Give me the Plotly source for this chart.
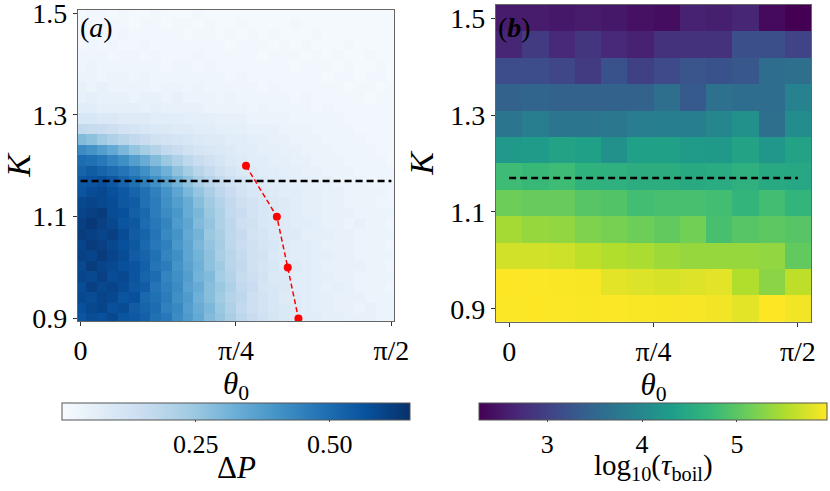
import numpy as np
import plotly.graph_objects as go

# --- dados ---
# painel (a): grade 30x30 de Delta P (x100), linhas de K=0.9 (baixo) ate K=1.5 (topo)
theta_a = np.linspace(0, np.pi / 2, 30)
k_a = np.linspace(0.9, 1.5, 30)
dp_x100 = [
    [56, 58, 57, 59, 56, 55, 53, 49, 47, 42, 38, 34, 29, 26, 22, 18, 15, 13, 11, 9, 8, 7, 7, 6, 6, 5, 5, 5, 4, 4],
    [57, 59, 60, 57, 58, 54, 52, 50, 45, 43, 37, 33, 30, 25, 21, 17, 14, 12, 10, 9, 8, 7, 6, 6, 5, 5, 4, 5, 4, 4],
    [59, 58, 60, 59, 56, 57, 51, 49, 46, 41, 38, 32, 28, 24, 20, 18, 14, 12, 10, 8, 8, 7, 6, 6, 5, 5, 5, 4, 4, 4],
    [58, 61, 59, 60, 58, 55, 54, 48, 45, 42, 36, 33, 28, 25, 21, 17, 15, 11, 10, 9, 7, 7, 6, 5, 6, 5, 4, 4, 4, 3],
    [60, 59, 61, 58, 59, 56, 52, 50, 44, 41, 37, 31, 29, 23, 20, 16, 14, 12, 9, 9, 7, 7, 6, 6, 5, 5, 4, 4, 4, 4],
    [59, 62, 60, 59, 57, 56, 53, 48, 46, 40, 36, 32, 27, 24, 19, 17, 13, 11, 10, 8, 8, 7, 6, 5, 5, 5, 5, 4, 4, 3],
    [61, 60, 62, 60, 58, 54, 52, 49, 44, 41, 35, 31, 27, 22, 19, 16, 13, 12, 9, 8, 7, 7, 6, 6, 5, 5, 4, 4, 4, 4],
    [60, 62, 61, 59, 57, 55, 51, 47, 45, 39, 35, 30, 26, 23, 18, 15, 13, 11, 10, 8, 7, 7, 6, 5, 5, 5, 4, 4, 4, 3],
    [62, 61, 60, 61, 58, 54, 52, 48, 43, 40, 34, 31, 25, 22, 18, 16, 12, 11, 9, 8, 8, 6, 6, 6, 5, 5, 4, 4, 4, 4],
    [61, 63, 61, 59, 56, 55, 50, 47, 44, 38, 35, 29, 26, 21, 18, 14, 13, 10, 9, 8, 7, 7, 6, 5, 5, 4, 5, 4, 4, 3],
    [60, 61, 62, 58, 57, 53, 51, 46, 42, 39, 33, 30, 25, 21, 17, 15, 12, 10, 9, 8, 7, 6, 6, 5, 5, 5, 4, 4, 4, 4],
    [59, 60, 59, 58, 55, 54, 49, 46, 41, 37, 33, 28, 24, 20, 17, 14, 12, 10, 9, 8, 7, 6, 6, 5, 5, 4, 4, 4, 3, 3],
    [56, 58, 59, 57, 55, 52, 49, 45, 40, 35, 30, 26, 22, 18, 15, 12, 10, 9, 8, 7, 7, 6, 6, 5, 5, 4, 4, 4, 4, 3],
    [55, 56, 57, 55, 52, 49, 45, 41, 36, 31, 27, 22, 19, 16, 13, 11, 9, 8, 7, 7, 6, 6, 5, 5, 4, 4, 4, 3, 3, 3],
    [52, 54, 52, 50, 48, 45, 41, 36, 32, 27, 23, 19, 16, 13, 11, 9, 8, 7, 7, 6, 6, 5, 5, 4, 4, 4, 3, 3, 3, 3],
    [50, 49, 47, 44, 41, 37, 33, 29, 25, 21, 18, 15, 13, 11, 9, 8, 7, 7, 6, 6, 5, 5, 4, 4, 4, 3, 3, 3, 3, 2],
    [42, 40, 37, 34, 30, 26, 23, 20, 17, 15, 13, 11, 10, 9, 8, 7, 7, 6, 6, 5, 5, 4, 4, 4, 3, 3, 3, 3, 2, 2],
    [29, 27, 24, 21, 19, 17, 15, 13, 12, 11, 10, 9, 8, 8, 7, 7, 6, 6, 5, 5, 4, 4, 4, 3, 3, 3, 3, 2, 2, 2],
    [17, 16, 15, 14, 12, 11, 10, 9, 9, 8, 8, 7, 7, 6, 6, 6, 5, 5, 5, 4, 4, 4, 3, 3, 3, 3, 2, 2, 2, 2],
    [10, 10, 9, 9, 8, 8, 8, 7, 7, 7, 6, 6, 6, 5, 5, 5, 4, 4, 4, 4, 3, 3, 3, 3, 3, 2, 2, 2, 2, 2],
    [7, 7, 6, 6, 6, 6, 5, 6, 5, 5, 5, 5, 4, 4, 4, 4, 3, 4, 3, 3, 3, 3, 2, 3, 2, 2, 2, 2, 2, 2],
    [5, 6, 5, 5, 5, 4, 5, 5, 4, 5, 4, 4, 4, 3, 4, 3, 3, 3, 3, 3, 2, 3, 2, 2, 2, 2, 2, 1, 2, 2],
    [5, 4, 5, 4, 4, 4, 4, 3, 4, 4, 3, 4, 3, 3, 3, 3, 3, 2, 3, 2, 2, 2, 2, 2, 2, 1, 2, 2, 1, 2],
    [4, 4, 3, 4, 4, 3, 4, 3, 3, 3, 3, 3, 3, 3, 2, 3, 2, 2, 2, 2, 2, 2, 2, 1, 2, 2, 1, 2, 2, 1],
    [3, 4, 3, 3, 3, 3, 3, 3, 2, 3, 3, 2, 3, 2, 2, 2, 2, 2, 2, 2, 1, 2, 2, 2, 1, 2, 1, 1, 2, 1],
    [3, 3, 3, 2, 3, 3, 2, 3, 2, 2, 2, 3, 2, 2, 2, 2, 2, 1, 2, 2, 2, 1, 2, 1, 2, 1, 1, 2, 1, 1],
    [2, 3, 2, 3, 2, 2, 3, 2, 2, 2, 2, 2, 2, 2, 1, 2, 2, 2, 1, 2, 1, 2, 1, 1, 1, 2, 1, 1, 1, 1],
    [2, 2, 2, 2, 3, 2, 2, 2, 2, 2, 1, 2, 2, 1, 2, 1, 2, 1, 2, 1, 1, 1, 2, 1, 1, 1, 1, 1, 1, 1],
    [2, 2, 2, 2, 2, 1, 2, 2, 1, 2, 2, 1, 2, 1, 1, 2, 1, 1, 1, 1, 2, 1, 1, 1, 1, 1, 1, 1, 1, 1],
    [1, 2, 2, 1, 2, 1, 1, 2, 1, 1, 1, 2, 1, 1, 1, 1, 1, 1, 1, 1, 1, 1, 1, 1, 1, 1, 1, 1, 1, 1],
]
delta_p = np.array(dp_x100) / 100.0

# curva vermelha (a)
theta_red = [0.836, 0.992, 1.047, 1.101]
k_red = [1.2, 1.1, 1.0, 0.9]

# linha tracejada horizontal (ambos os paineis)
k_line = [1.17, 1.17]
theta_line = [0, np.pi / 2]

# painel (b): log10(tau_boil) em grade 12x12, linhas de K=0.9 ate 1.5
theta_b = np.linspace(0, np.pi / 2, 12)
k_b = np.linspace(0.9, 1.5, 12)
log_tau = [
    [5.94, 5.95, 5.94, 5.93, 5.94, 5.93, 5.92, 5.91, 5.88, 5.80, 5.95, 5.88],
    [5.95, 5.94, 5.93, 5.92, 5.80, 5.77, 5.73, 5.77, 5.80, 5.52, 5.30, 5.59],
    [5.70, 5.70, 5.67, 5.59, 5.52, 5.48, 5.41, 5.37, 5.37, 5.37, 5.34, 5.05],
    [5.45, 5.37, 5.34, 5.23, 5.19, 5.12, 5.05, 5.15, 4.86, 4.97, 5.01, 4.97],
    [5.12, 5.08, 5.08, 4.97, 4.94, 4.83, 4.86, 4.86, 4.83, 4.68, 4.83, 4.68],
    [4.79, 4.75, 4.79, 4.64, 4.61, 4.57, 4.57, 4.50, 4.53, 4.61, 4.50, 4.46],
    [4.24, 4.28, 4.39, 4.35, 4.13, 4.35, 4.35, 4.28, 4.24, 4.39, 4.20, 4.39],
    [3.73, 3.84, 3.73, 3.73, 3.76, 3.84, 3.87, 3.87, 3.98, 4.13, 3.62, 4.06],
    [3.43, 3.47, 3.43, 3.43, 3.43, 3.43, 3.62, 3.32, 3.65, 3.58, 3.58, 3.91],
    [3.14, 3.14, 3.07, 2.92, 3.22, 3.00, 3.11, 3.25, 3.22, 3.29, 3.58, 3.62],
    [2.67, 2.92, 2.70, 2.85, 2.70, 2.63, 2.81, 2.81, 2.81, 3.18, 3.18, 3.03],
    [2.56, 2.56, 2.52, 2.56, 2.52, 2.45, 2.41, 2.63, 2.59, 2.67, 2.37, 2.28],
]

x_ticks = [0, np.pi / 4, np.pi / 2]
x_ticktext = ["0", "π/4", "π/2"]
k_ticks = [0.9, 1.1, 1.3, 1.5]

FONT = "Liberation Serif"
W, H = 830, 491


def hbar(cx, **extra):
    # colorbar horizontal, posicao em pixels da figura
    return dict(
        orientation="h", x=cx / W, xanchor="center", y=1 - 403 / H, yanchor="top",
        len=348 / W, lenmode="fraction", thickness=17, xpad=0, ypad=0,
        outlinecolor="#555", outlinewidth=1, ticks="outside", ticklen=2,
        tickfont=dict(family=FONT, size=26, color="black"), **extra,
    )


fig = go.Figure()

fig.add_trace(go.Heatmap(
    x=theta_a, y=k_a, z=delta_p, colorscale="Blues", zmin=0, zmax=0.65,
    zsmooth=False, xaxis="x", yaxis="y",
    colorbar=hbar(236, tickvals=[0.25, 0.5], ticktext=["0.25", "0.50"]),
))
fig.add_trace(go.Scatter(
    x=theta_line, y=k_line, mode="lines", xaxis="x", yaxis="y",
    line=dict(color="black", width=2.5, dash="7px,4px"), showlegend=False,
))
fig.add_trace(go.Scatter(
    x=theta_red, y=k_red, mode="lines+markers", xaxis="x", yaxis="y",
    line=dict(color="red", width=1.5, dash="5px,3px"),
    marker=dict(color="red", size=8), showlegend=False,
))

fig.add_trace(go.Heatmap(
    x=theta_b, y=k_b, z=log_tau, colorscale="Viridis", zmin=2.28, zmax=5.95,
    zsmooth=False, xaxis="x2", yaxis="y2",
    colorbar=hbar(653, tickvals=[3, 4, 5]),
))
fig.add_trace(go.Scatter(
    x=theta_line, y=k_line, mode="lines", xaxis="x2", yaxis="y2",
    line=dict(color="black", width=2.5, dash="7px,4px"), showlegend=False,
))

axis_common = dict(
    showgrid=False, zeroline=False, showline=True, linecolor="#666", linewidth=1.2,
    mirror=True, ticks="outside", ticklen=4, tickcolor="#333", automargin=False,
    ticklabeloverflow="allow",
    tickfont=dict(family=FONT, size=28, color="black"),
)
xtitle = dict(text="<i>θ</i><sub>0</sub>", font=dict(family=FONT, size=31, color="black"), standoff=2)
ytitle = dict(text="<i>K</i>", font=dict(family=FONT, size=34, color="black"), standoff=6)

fig.update_layout(
    width=W, height=H, margin=dict(l=0, r=0, t=0, b=0, autoexpand=False),
    paper_bgcolor="white", plot_bgcolor="white", showlegend=False,
    xaxis=dict(domain=[78 / W, 394 / W], range=[-0.013, 1.584], anchor="y",
               tickvals=x_ticks, ticktext=x_ticktext, title=xtitle, **axis_common),
    yaxis=dict(domain=[1 - 321 / H, 1 - 10 / H], range=[0.895, 1.506], anchor="x",
               tickvals=k_ticks, tickformat=".1f", title=ytitle, **axis_common),
    xaxis2=dict(domain=[496 / W, 811 / W], range=[-0.0714, 1.642], anchor="y2",
                tickvals=x_ticks, ticktext=x_ticktext, title=xtitle, **axis_common),
    yaxis2=dict(domain=[1 - 322 / H, 1 - 5 / H], range=[0.873, 1.527], anchor="x2",
                tickvals=k_ticks, tickformat=".1f", title=ytitle, **axis_common),
    annotations=[
        dict(text="(<i>a</i>)", xref="x domain", yref="y domain", x=0.0, y=1.0,
             xanchor="left", yanchor="top", showarrow=False,
             font=dict(family=FONT, size=28, color="black")),
        dict(text="(<b><i>b</i></b>)", xref="x2 domain", yref="y2 domain", x=0.0, y=0.985,
             xanchor="left", yanchor="top", showarrow=False,
             font=dict(family=FONT, size=28, color="black")),
        dict(text="Δ<i>P</i>", xref="paper", yref="paper", x=236 / W, y=1 - 467 / H,
             xanchor="center", yanchor="middle", showarrow=False,
             font=dict(family=FONT, size=31, color="black")),
        dict(text="log<sub>10</sub>(<i>τ</i><sub>boil</sub>)", xref="paper", yref="paper",
             x=653 / W, y=1 - 467 / H, xanchor="center", yanchor="middle", showarrow=False,
             font=dict(family=FONT, size=29, color="black")),
    ],
)

# tira a margem padrao do <body> para a figura ocupar a janela inteira
fig.write_html("out.html", config={"displayModeBar": False},
               post_script="document.body.style.margin='0px';")
